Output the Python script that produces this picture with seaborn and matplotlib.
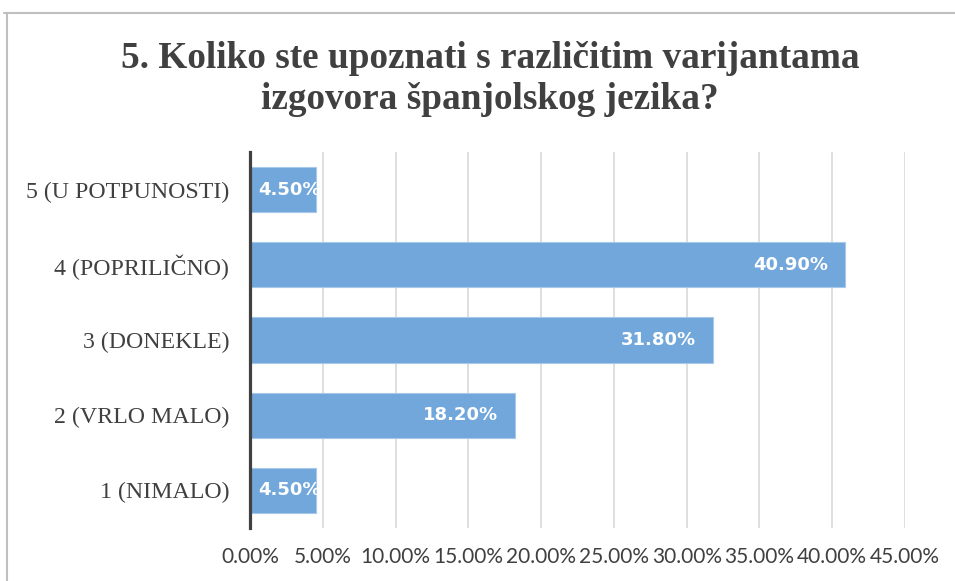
import matplotlib
matplotlib.use("Agg")
import matplotlib.pyplot as plt
import seaborn as sns
from matplotlib.lines import Line2D

# answers to question 5, share of respondents
categories = ["5 (U POTPUNOSTI)", "4 (POPRILIČNO)", "3 (DONEKLE)", "2 (VRLO MALO)", "1 (NIMALO)"]
percentages = [4.5, 40.9, 31.8, 18.2, 4.5]
x_ticks = [0, 5, 10, 15, 20, 25, 30, 35, 40, 45]
title = "5. Koliko ste upoznati s različitim varijantama\nizgovora španjolskog jezika?"

sns.set_theme(style="white")
plt.rcParams["font.family"] = ["DejaVu Sans"]

text_color = "#404040"
bar_color = "#72a7db"

fig = plt.figure(figsize=(9.55, 5.81), dpi=100)
ax = fig.add_axes([250 / 955, 1 - 528 / 581, 655 / 955, 376 / 581])

sns.barplot(x=percentages, y=categories, orient="h", color=bar_color, saturation=1,
            width=0.6, edgecolor="#a6c8ea", linewidth=0.8, ax=ax, zorder=2)

ax.set_xlim(0, 45)
ax.set_xticks(x_ticks)
ax.set_xticklabels([f"{t:.2f}%" for t in x_ticks], family="Lato", fontsize=15, color=text_color)
ax.set_yticklabels(categories, family="Liberation Serif", fontsize=17.2, color=text_color)
ax.tick_params(axis="x", length=0, pad=14)
ax.tick_params(axis="y", length=0, pad=15)
ax.set_xlabel("")
ax.set_ylabel("")

ax.grid(axis="x", color="#d9d9d9", linewidth=1.2, zorder=0)
ax.set_axisbelow(True)
for side in ["top", "right", "bottom"]:
    ax.spines[side].set_visible(False)
ax.spines["left"].set_color(text_color)
ax.spines["left"].set_linewidth(2.3)
ax.spines["left"].set_zorder(3)

# value labels, white, at the inner end of each bar
for i, v in enumerate(percentages):
    label = f"{v:.2f}%"
    if v < 10:
        ax.annotate(label, (0, i), xytext=(6, 0), textcoords="offset points",
                    ha="left", va="center", color="white", fontsize=13, fontweight="bold", zorder=4)
    else:
        ax.annotate(label, (v, i), xytext=(-12, 0), textcoords="offset points",
                    ha="right", va="center", color="white", fontsize=13, fontweight="bold", zorder=4)

fig.text(490 / 955, 1 - 79 / 581, title, ha="center", va="center", family="Liberation Serif",
         fontsize=26.8, fontweight="bold", color=text_color, linespacing=1.2)

# chart frame
fig.add_artist(Line2D([4 / 955, 1], [1 - 13 / 581, 1 - 13 / 581], color="#bfbfbf", linewidth=1.5))
fig.add_artist(Line2D([7 / 955, 7 / 955], [0, 1 - 13 / 581], color="#bfbfbf", linewidth=1.5))

fig.savefig("out.png", dpi=100)
